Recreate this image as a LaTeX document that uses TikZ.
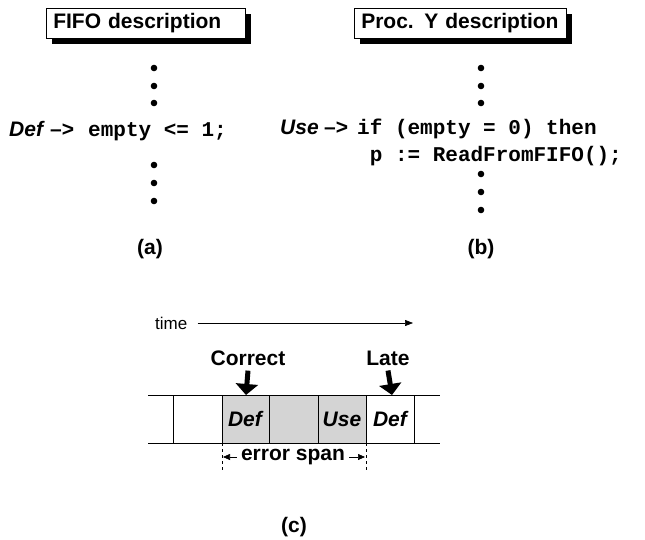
\documentclass[tikz,border=0pt]{standalone}
\usepackage{fontspec}
\setmainfont{Liberation Sans}
\setmonofont{Liberation Mono}
\usetikzlibrary{arrows.meta,shadows,calc}
\tikzset{
  hdr/.style={draw=black, line width=0.6pt, fill=white, anchor=north west,
    minimum height=30pt, inner xsep=7pt, inner ysep=0pt, text width=185pt, align=left,
    font=\fontsize{21}{25}\selectfont\bfseries,
    drop shadow={shadow xshift=6pt, shadow yshift=-6pt, fill=black, opacity=1}},
  vdot/.style={circle, fill=black, inner sep=0pt, minimum size=6.6pt},
  code/.style={inner sep=0pt, font=\fontsize{21}{25}\selectfont\ttfamily\bfseries},
  lbl/.style={inner sep=0pt, font=\fontsize{21}{25}\selectfont\bfseries},
  ilbl/.style={inner sep=0pt, font=\fontsize{21}{25}\selectfont\bfseries\itshape},
  plain/.style={inner sep=0pt, font=\fontsize{17}{21}\selectfont},
  cellline/.style={line width=0.6pt},
  bigarrow/.style={line width=5pt, -{Triangle[width=22pt,length=11pt]}},
}
\begin{document}
\begin{tikzpicture}[x=1pt,y=-1pt]
\useasboundingbox (0,0) rectangle (645,540);
% (a)
\node[hdr] (fifo) at (46,8) {FIFO description};
\foreach \i/\yy in {1/68,2/86,3/103,4/165,5/183,6/201}
  \node[vdot] (ad\i) at (154,\yy) {};
\node[ilbl, anchor=base west] (adef) at (9,137) {Def};
\node[lbl, anchor=base west] (aarr) at (50,137) {\textendash>};
\node[code, anchor=base west] (acode) at (88,137) {empty <= 1;};
\node[lbl] (alab) at (150,249) {(a)};
% (b)
\node[hdr, text width=198pt] (proc) at (354,8) {Proc. Y description};
\foreach \i/\yy in {1/68,2/86,3/103,4/174,5/192,6/210}
  \node[vdot] (bd\i) at (481,\yy) {};
\node[ilbl, anchor=base west] (buse) at (280,135) {Use};
\node[lbl, anchor=base west] (barr) at (324,135) {\textendash>};
\node[code, anchor=base west] (bif) at (357,135) {if (empty = 0) then};
\node[code, anchor=base west] (bp) at ([yshift=-27pt]bif.base west) {\ p := ReadFromFIFO();};
\node[lbl] (blab) at (481,249) {(b)};
% (c)
\node[plain, anchor=west] (time) at (155,323) {time};
\coordinate (tend) at (413,323);
\draw[line width=0.6pt, -{Triangle[width=6pt,length=8pt]}] (time.east) ++(10,0) coordinate (tstart) (tstart) -- (tend);
\node[lbl] (correct) at (248,358) {Correct};
\node[lbl] (late) at (388,358) {Late};
\fill[black!17] (222,395) rectangle (366,443);
\coordinate (tl) at (148,395); \coordinate (tr) at (440,395);
\coordinate (bl) at (148,443); \coordinate (br) at (440,443);
\draw[cellline] (tl) -- (tr);
\draw[cellline] (bl) -- (br);
\foreach \xx in {173,222,269,318,366,414}
  \draw[cellline] (\xx,395) -- (\xx,443);
\draw[bigarrow] (correct.south) ++(0,5) -- (246,395);
\draw[bigarrow] (late.south) ++(0,5) -- (392,395);
\node[ilbl] (c1) at (245,419) {Def};
\node[ilbl] (c2) at (342,419) {Use};
\node[ilbl] (c3) at (390,419) {Def};
\draw[cellline, dashed] (222,443) -- (222,471);
\draw[cellline, dashed] (366,443) -- (366,471);
\node[lbl] (espan) at (293,457) {error span};
\draw[line width=0.6pt, -{Triangle[width=6pt,length=7pt]}] (espan.west) ++(-4,0) -- (223,457);
\draw[line width=0.6pt, -{Triangle[width=6pt,length=7pt]}] (espan.east) ++(4,0) -- (365,457);
\node[lbl] (clab) at (294,527) {(c)};
\end{tikzpicture}
\end{document}
